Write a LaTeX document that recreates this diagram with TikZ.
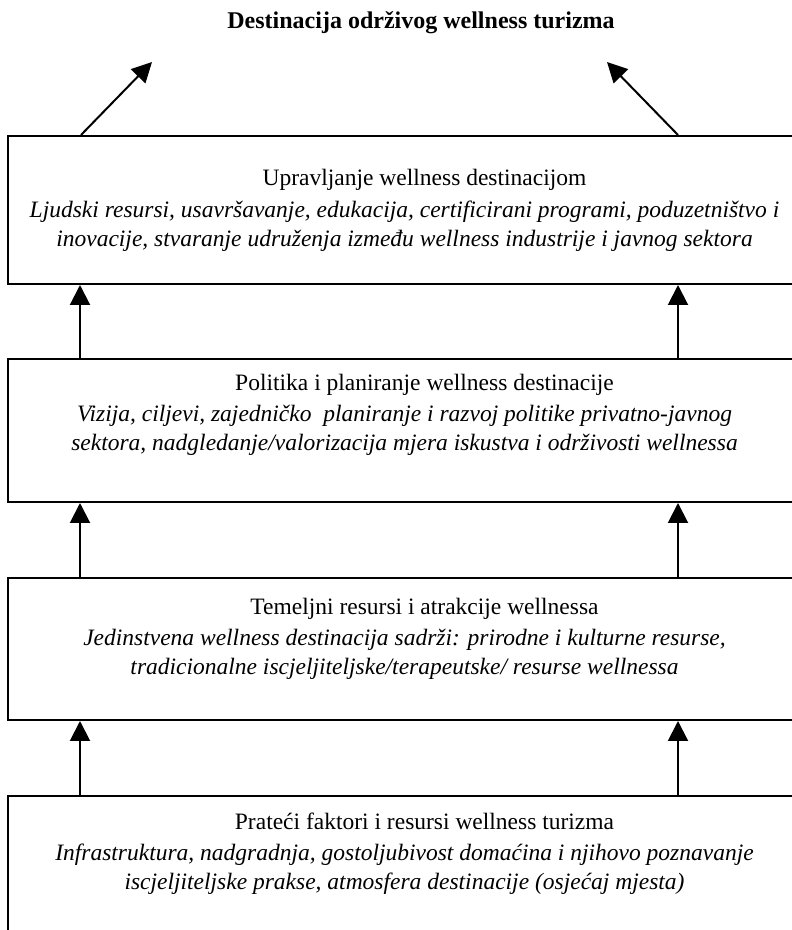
\documentclass[tikz,border=0pt]{standalone}
\usepackage{fontspec}
\setmainfont{Liberation Serif}
\usetikzlibrary{arrows.meta,positioning}

\begin{document}
\begin{tikzpicture}[x=1pt,y=1pt,
  box/.style={draw,line width=2pt,minimum width=793pt,inner sep=0pt,anchor=north west},
  head/.style={font=\fontsize{23.5}{29}\selectfont,inner sep=0pt,anchor=base},
  desc/.style={font=\fontsize{23.5}{29}\selectfont\itshape,align=center,inner sep=0pt,anchor=north},
  arr/.style={-{Triangle[length=20pt,width=20pt]},line width=2pt}]
  \useasboundingbox (0,0) rectangle (792,930);
  \clip (0,0) rectangle (792,930);
  \node[font=\fontsize{24}{28}\selectfont\bfseries,inner sep=0pt] (goal) at (421,907) {Destinacija održivog wellness turizma};
  % four levels, top to bottom
  \node[box,minimum height=148pt] (b1) at (7,795) {};
  \node[box,minimum height=143pt,below=73pt of b1] (b2) {};
  \node[box,minimum height=142pt,below=74pt of b2] (b3) {};
  \node[box,minimum height=160pt,below=74pt of b3] (b4) {};
  % texts
  \node[head] (h1) at ([shift={(20,-51)}]b1.north) {Upravljanje wellness destinacijom};
  \node[desc] (d1) at ([yshift=-66]b1.north) {Ljudski resursi, usavršavanje, edukacija, certificirani programi, poduzetništvo i\\inovacije, stvaranje udruženja između wellness industrije i javnog sektora};
  \node[head] (h2) at ([shift={(20,-33)}]b2.north) {Politika i planiranje wellness destinacije};
  \node[desc] (d2) at ([yshift=-47]b2.north) {Vizija, ciljevi, zajedničko\ \ planiranje i razvoj politike privatno-javnog\\sektora, nadgledanje/valorizacija mjera iskustva i održivosti wellnessa};
  \node[head] (h3) at ([shift={(20,-38)}]b3.north) {Temeljni resursi i atrakcije wellnessa};
  \node[desc] (d3) at ([yshift=-52]b3.north) {Jedinstvena wellness destinacija sadrži: prirodne i kulturne resurse,\\tradicionalne iscjeljiteljske/terapeutske/ resurse wellnessa};
  \node[head] (h4) at ([shift={(20,-35)}]b4.north) {Prateći faktori i resursi wellness turizma};
  \node[desc] (d4) at ([yshift=-49]b4.north) {Infrastruktura, nadgradnja, gostoljubivost domaćina i njihovo poznavanje\\iscjeljiteljske prakse, atmosfera destinacije (osjećaj mjesta)};
  % arrows
  \coordinate (tl) at (152,868);
  \coordinate (tr) at (607,868);
  \draw[arr] ([xshift=74]b1.north west) -- (tl);
  \draw[arr] ([xshift=671]b1.north west) -- (tr);
  \foreach \lo/\hi in {b2/b1,b3/b2,b4/b3}{
    \draw[arr] ([xshift=73]\lo.north west) -- ([xshift=73]\hi.south west);
    \draw[arr] ([xshift=671]\lo.north west) -- ([xshift=671]\hi.south west);
  }
\end{tikzpicture}
\end{document}
